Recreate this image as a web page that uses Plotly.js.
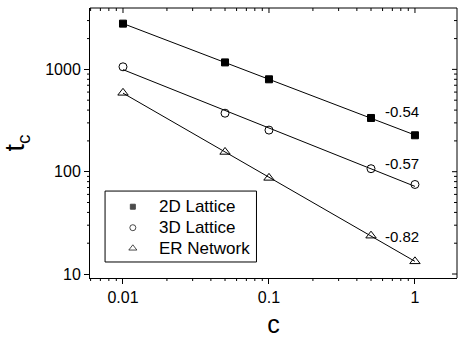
<!DOCTYPE html>
<html><head><meta charset="utf-8">
<script src="https://cdn.plot.ly/plotly-3.0.1.min.js"></script>
<style>html,body{margin:0;padding:0;background:#fff}#plot{width:458px;height:339px}</style>
</head><body><div id="plot"></div>
<script>
const cValues = [0.01, 0.05, 0.1, 0.5, 1];
const lattice2D = [2800, 1170, 800, 335, 227];
const lattice3D = [1060, 373, 255, 107, 75];
const erNetwork = [590, 156, 87, 23.7, 13.3];
const seriesNames = ['2D Lattice', '3D Lattice', 'ER Network'];
const exponentLabels = ['-0.54', '-0.57', '-0.82'];
const xTickVals = [0.01, 0.1, 1];
const xTickText = ['0.01', '0.1', '1'];
const yTickVals = [10, 100, 1000];
const yTickText = ['10', '100', '1000'];

const series = [lattice2D, lattice3D, erNetwork];
const symbols = ['square', 'circle-open', 'triangle-up-open'];
const sizes = [7, 8, 9];
const legendSizes = [5, 6, 7];

function fit(xs, ys) {
  const lx = xs.map(Math.log10), ly = ys.map(Math.log10);
  const n = lx.length;
  const mx = lx.reduce((a,b)=>a+b)/n, my = ly.reduce((a,b)=>a+b)/n;
  let sxy=0, sxx=0;
  for (let i=0;i<n;i++){ sxy+=(lx[i]-mx)*(ly[i]-my); sxx+=(lx[i]-mx)**2; }
  const b = sxy/sxx, a = my - b*mx;
  const x0 = xs[0], x1 = xs[n-1];
  return {x:[x0,x1], y:[Math.pow(10,a+b*Math.log10(x0)), Math.pow(10,a+b*Math.log10(x1))]};
}

const xr = [-2.226, 0.288];
const yr = [0.961, 3.600];
const W = 458, H = 339, M = {l:90, r:1, t:8, b:61};
const PW = W - M.l - M.r, PH = H - M.t - M.b;

function minorVals(lo, hi, range) {
  const out = [];
  for (let e = lo; e <= hi; e++) for (let m = 2; m <= 9; m++) {
    const v = m * Math.pow(10, e), l = Math.log10(v);
    if (l > range[0] && l < range[1]) out.push(v);
  }
  return out;
}
const xMinor = minorVals(-3, 0, xr);
const yMinor = minorVals(0, 3, yr);
const fx = v => (Math.log10(v) - xr[0]) / (xr[1] - xr[0]);
const fy = v => (Math.log10(v) - yr[0]) / (yr[1] - yr[0]);

const traces = [];
series.forEach((ys) => {
  const f = fit(cValues, ys);
  traces.push({x:f.x, y:f.y, mode:'lines', line:{color:'#000', width:1}, showlegend:false, hoverinfo:'skip'});
});
series.forEach((ys, i) => {
  traces.push({x:cValues, y:ys, mode:'markers', name:seriesNames[i], showlegend:false,
    marker:{symbol:symbols[i], size:sizes[i], color:'#000', line:{color:'#000', width:1}}});
});

// custom legend (plot-fraction coordinates)
const legRowY = [0.264, 0.1863, 0.110];
traces.push({x:legRowY.map(()=>0.1167), y:legRowY, xaxis:'x3', yaxis:'y3', mode:'markers', showlegend:false, hoverinfo:'skip',
  marker:{symbol:symbols, size:legendSizes, color:'#000', line:{color:'#000', width:1}}});

const font = {family:'Liberation Sans, Arial, sans-serif', color:'#000'};

const annPos = [[-0.219, 2.587], [-0.219, 2.082], [-0.219, 1.365]];
const annotations = exponentLabels.map((t, i) => ({
  xref:'x', yref:'y', x:annPos[i][0], y:annPos[i][1],
  text:t, showarrow:false, xanchor:'left', yanchor:'middle', font:Object.assign({size:15}, font)
}));
seriesNames.forEach((n, i) => annotations.push({
  xref:'x3', yref:'y3', x:0.183, y:legRowY[i], text:n, showarrow:false, xanchor:'left', yanchor:'middle',
  font:Object.assign({size:17}, font)
}));

// frame (top/right) and ticks drawn as paper-referenced shapes
const shapes = [];
const seg = (x0, y0, x1, y1) => shapes.push({type:'line', xref:'paper', yref:'paper', x0:x0, y0:y0, x1:x1, y1:y1,
  line:{color:'#000', width:1}, layer:'above'});
seg(0, 1, 1, 1);
seg(1, 0, 1, 1);
const MAJ = 5, MIN = 3;
xTickVals.forEach(v => seg(fx(v), 1, fx(v), 1 - MAJ / PH));
xMinor.forEach(v => { seg(fx(v), 1, fx(v), 1 - MIN / PH); seg(fx(v), 0, fx(v), -MIN / PH); });
yTickVals.forEach(v => seg(1, fy(v), 1 - MAJ / PW, fy(v)));
yMinor.forEach(v => { seg(1, fy(v), 1 - MIN / PW, fy(v)); seg(0, fy(v), -MIN / PW, fy(v)); });
shapes.push({type:'rect', xref:'x3', yref:'y3', x0:0.041, x1:0.4536, y0:0.0593, y1:0.322,
  line:{color:'#000', width:1}, fillcolor:'rgba(0,0,0,0)', layer:'above'});

function logAxis(range, vals, text, title, tsize, standoff) {
  return {type:'log', range:range, tickmode:'array', tickvals:vals, ticktext:text,
    ticks:'outside', ticklen:MAJ, tickwidth:1, tickcolor:'#000',
    showline:true, linecolor:'#000', linewidth:1, showgrid:false, zeroline:false,
    tickfont:Object.assign({size:16}, font),
    title:{text:title, font:Object.assign({size:tsize}, font), standoff:standoff}};
}

const layout = {
  width:W, height:H,
  margin:M,
  paper_bgcolor:'#fff', plot_bgcolor:'#fff',
  font:font,
  showlegend:false,
  hovermode:false,
  xaxis: logAxis(xr, xTickVals, xTickText, 'c', 25, 10),
  yaxis: logAxis(yr, yTickVals, yTickText, 't<sub>c</sub>', 27, 12),
  xaxis3:{overlaying:'x', anchor:'y3', range:[0,1], visible:false, fixedrange:true},
  yaxis3:{overlaying:'y', anchor:'x3', range:[0,1], visible:false, fixedrange:true},
  shapes:shapes,
  annotations:annotations
};
Plotly.newPlot('plot', traces, layout, {displayModeBar:false});
</script></body></html>
